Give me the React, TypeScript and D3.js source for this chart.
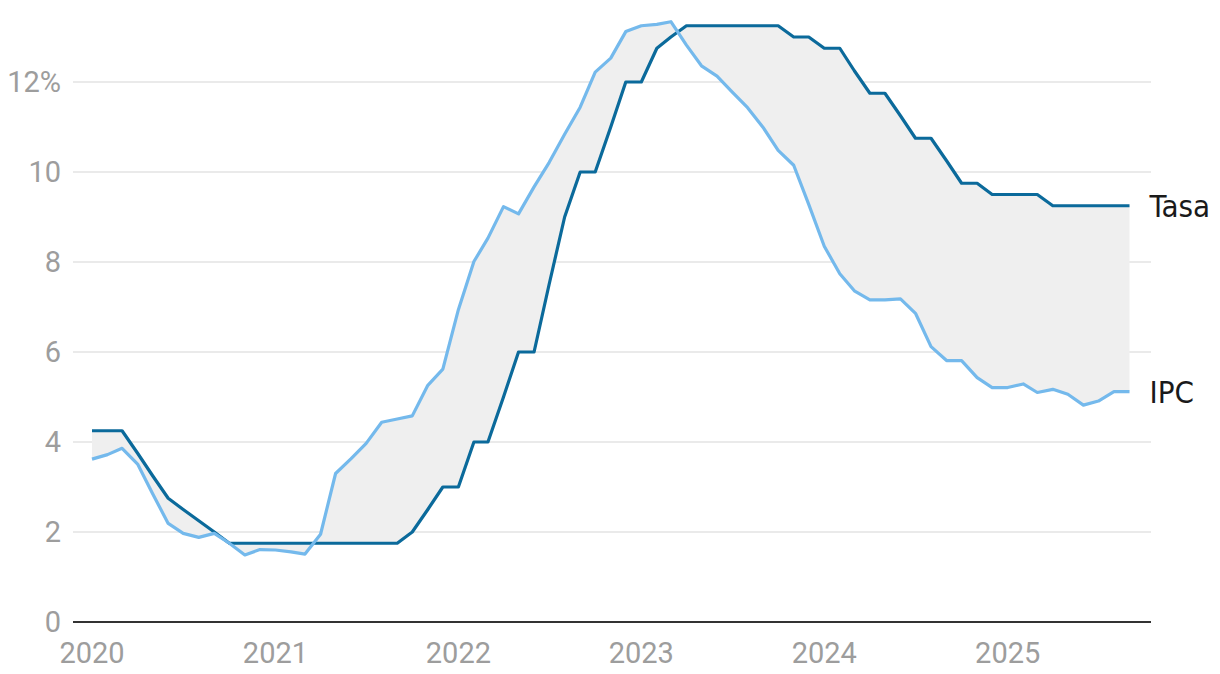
import React from "react";
import * as d3 from "d3";

// Monthly observations, Jan 2020 – Sep 2025
const startYear = 2020;
const tasa: number[] = [
  4.25, 4.25, 4.25, 3.75, 3.25, 2.75, 2.5, 2.25, 2.0, 1.75,
  1.75, 1.75, 1.75, 1.75, 1.75, 1.75, 1.75, 1.75, 1.75, 1.75, 1.75,
  2.0, 2.5, 3.0, 3.0, 4.0, 4.0, 5.0, 6.0, 6.0,
  7.5, 9.0, 10.0, 10.0, 11.0, 12.0, 12.0, 12.75, 13.0, 13.25,
  13.25, 13.25, 13.25, 13.25, 13.25, 13.25,
  13.0, 13.0, 12.75, 12.75, 12.25, 11.75, 11.75, 11.25, 10.75, 10.75, 10.25, 9.75, 9.75, 9.5,
  9.5, 9.5, 9.5,
  9.25, 9.25, 9.25, 9.25, 9.25, 9.25,
];
const ipc: number[] = [
  3.62, 3.72, 3.86, 3.51, 2.85, 2.19, 1.97, 1.88, 1.97, 1.75, 1.49, 1.61,
  1.6, 1.56, 1.51, 1.95, 3.3, 3.63, 3.97, 4.44, 4.51, 4.58, 5.26, 5.62,
  6.94, 8.01, 8.53, 9.23, 9.07, 9.67, 10.21, 10.84, 11.44, 12.22, 12.53, 13.12,
  13.25, 13.28, 13.34, 12.82, 12.36, 12.13, 11.78, 11.43, 10.99, 10.48, 10.15, 9.28,
  8.35, 7.74, 7.36, 7.16, 7.16, 7.18, 6.86, 6.12, 5.81, 5.81, 5.43, 5.21,
  5.21, 5.29, 5.1, 5.17, 5.06, 4.82, 4.91, 5.12, 5.12,
];
const yTicks: number[] = [0, 2, 4, 6, 8, 10, 12];
const yTickLabels: string[] = ["0", "2", "4", "6", "8", "10", "12%"];
const xYears: number[] = [2020, 2021, 2022, 2023, 2024, 2025];
const seriesNames: string[] = ["Tasa", "IPC"];

const W = 1220;
const H = 674;
const gridLeft = 73;
const gridRight = 1151;
const TASA_COLOR = "#0b6a9b";
const IPC_COLOR = "#74b9ec";
const AXIS_FONT = "Roboto, 'Liberation Sans', Arial, sans-serif";
const LABEL_FONT = "'Liberation Sans Narrow', 'DejaVu Sans Condensed', Roboto, sans-serif";

export default function App() {
  const dates = tasa.map((_, i) => new Date(startYear, i, 1));
  const x = d3
    .scaleTime()
    .domain([dates[0], dates[dates.length - 1]])
    .range([92, 1129.5]);
  const y = d3.scaleLinear().domain([0, 12]).range([622, 82]);

  const rows = dates.map((d, i) => ({ d, t: tasa[i], p: ipc[i] }));

  const area = d3
    .area<{ d: Date; t: number; p: number }>()
    .x((r) => x(r.d))
    .y0((r) => y(r.p))
    .y1((r) => y(r.t));
  const lineT = d3
    .line<{ d: Date; t: number; p: number }>()
    .x((r) => x(r.d))
    .y((r) => y(r.t));
  const lineP = d3
    .line<{ d: Date; t: number; p: number }>()
    .x((r) => x(r.d))
    .y((r) => y(r.p));

  const last = rows[rows.length - 1];

  return (
    <svg
      width={W}
      height={H}
      style={{ position: "absolute", left: 0, top: 0, background: "#fff" }}
    >
      {/* grid */}
      {yTicks
        .filter((v) => v !== 0)
        .map((v) => (
          <line
            key={v}
            x1={gridLeft}
            x2={gridRight}
            y1={y(v)}
            y2={y(v)}
            stroke="#e3e3e3"
            strokeWidth={1.6}
          />
        ))}
      {/* fill between */}
      <path d={area(rows) || ""} fill="#efefef" />
      {/* baseline */}
      <line
        x1={gridLeft}
        x2={gridRight}
        y1={y(0)}
        y2={y(0)}
        stroke="#333"
        strokeWidth={2}
      />
      {/* y labels */}
      {yTicks.map((v, i) => (
        <text
          key={v}
          x={61}
          y={y(v)}
          dy="0.36em"
          textAnchor="end"
          fontFamily={AXIS_FONT}
          fontSize={29}
          fill="#9d9d9d"
        >
          {yTickLabels[i]}
        </text>
      ))}
      {/* x labels */}
      {xYears.map((yr) => (
        <text
          key={yr}
          x={x(new Date(yr, 0, 1))}
          y={663}
          textAnchor="middle"
          fontFamily={AXIS_FONT}
          fontSize={29}
          fill="#9d9d9d"
        >
          {yr}
        </text>
      ))}
      {/* lines */}
      <path
        d={lineT(rows) || ""}
        fill="none"
        stroke={TASA_COLOR}
        strokeWidth={3.2}
        strokeLinejoin="round"
      />
      <path
        d={lineP(rows) || ""}
        fill="none"
        stroke={IPC_COLOR}
        strokeWidth={3.2}
        strokeLinejoin="round"
      />
      {/* series labels */}
      <text
        x={x(last.d) + 20}
        y={y(last.t)}
        dy="0.36em"
        fontFamily={LABEL_FONT}
        fontSize={31}
        fill="#1a1a1a"
      >
        {seriesNames[0]}
      </text>
      <text
        x={x(last.d) + 20}
        y={y(last.p)}
        dy="0.36em"
        fontFamily={LABEL_FONT}
        fontSize={31}
        fill="#1a1a1a"
      >
        {seriesNames[1]}
      </text>
    </svg>
  );
}
